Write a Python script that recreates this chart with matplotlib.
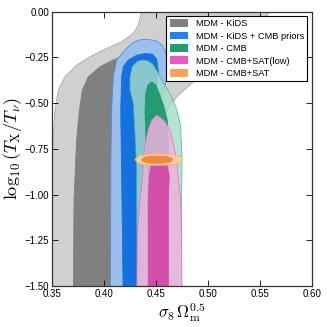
import numpy as np
import matplotlib
matplotlib.use("Agg")
import matplotlib.pyplot as plt
from matplotlib.patches import Patch

plt.rcParams['mathtext.fontset'] = 'cm'
plt.rcParams['font.family'] = ['Liberation Sans', 'DejaVu Sans']

# contour outlines (x = sigma8*Om^0.5, y = log10(Tx/Tnu))
kids_95_x = [0.3495, 0.3500, 0.3510, 0.3532, 0.3564, 0.3628, 0.3740, 0.3869, 0.4029, 0.4173, 0.4285, 0.4333, 0.4365, 0.4380,
             0.5650, 0.5599, 0.5503, 0.5311, 0.5054, 0.4846, 0.4702, 0.4590, 0.4526, 0.4503, 0.4494]
kids_95_y = [-1.60, -1.00, -0.75, -0.538, -0.428, -0.355, -0.292, -0.246, -0.200, -0.164, -0.118, -0.073, 0.0, 0.05,
             0.05, 0.0, -0.064, -0.173, -0.292, -0.392, -0.465, -0.556, -0.700, -0.940, -1.60]

kids_68_x = [0.3708, 0.3715, 0.3740, 0.3766, 0.3795, 0.3853, 0.3965, 0.4090, 0.4173, 0.4250,
             0.4350, 0.4400, 0.4380, 0.4320, 0.4300]
kids_68_y = [-1.60, -1.03, -0.70, -0.538, -0.428, -0.355, -0.300, -0.264, -0.246, -0.238,
             -0.245, -0.280, -0.400, -0.700, -1.60]

kcmb_95_x = [0.4065, 0.4070, 0.4077, 0.4093, 0.4125, 0.4205, 0.4269, 0.4300, 0.4360,
             0.4420, 0.4494, 0.4558, 0.4590, 0.4615, 0.4622, 0.4575, 0.4510, 0.4446, 0.4433, 0.4429, 0.4423]
kcmb_95_y = [-1.60, -0.80, -0.538, -0.355, -0.264, -0.210, -0.173, -0.164, -0.152,
             -0.151, -0.157, -0.180, -0.210, -0.280, -0.337, -0.430, -0.519, -0.629, -0.800, -0.975, -1.60]

kcmb_68_x = [0.4189, 0.4175, 0.4164, 0.4173, 0.4190, 0.4237, 0.4320, 0.4400,
             0.4470, 0.4510, 0.4526, 0.4500, 0.4450, 0.4400, 0.4370]
kcmb_68_y = [-1.60, -1.00, -0.538, -0.355, -0.300, -0.264, -0.237, -0.228,
             -0.232, -0.260, -0.330, -0.450, -0.600, -0.900, -1.60]

cmb_95_x = [0.4324, 0.4317, 0.4317, 0.4301, 0.4285, 0.4253, 0.4253, 0.4275, 0.4320, 0.4370,
            0.4420, 0.4470, 0.4520, 0.4570, 0.4640, 0.4695, 0.4740, 0.4750, 0.4753, 0.4750, 0.4750]
cmb_95_y = [-1.60, -1.03, -0.848, -0.665, -0.500, -0.428, -0.355, -0.300, -0.272, -0.264,
            -0.266, -0.285, -0.330, -0.385, -0.450, -0.520, -0.620, -0.750, -0.848, -1.03, -1.60]

cmb_68_x = [0.4429, 0.4420, 0.4405, 0.4397, 0.4405, 0.4425, 0.4462,
            0.4503, 0.4535, 0.4580, 0.4612, 0.4622, 0.4622, 0.4622]
cmb_68_y = [-1.60, -0.848, -0.665, -0.538, -0.447, -0.401, -0.383,
            -0.401, -0.447, -0.519, -0.592, -0.702, -0.848, -1.60]

satlow_95_x = [0.4317, 0.4324, 0.4349, 0.4375, 0.4381, 0.4401, 0.4426, 0.4462, 0.4510,
               0.4558, 0.4590, 0.4638, 0.4670, 0.4702, 0.4718, 0.4740, 0.4750, 0.4753]
satlow_95_y = [-1.60, -1.212, -1.030, -0.902, -0.811, -0.720, -0.647, -0.592, -0.565,
               -0.583, -0.600, -0.647, -0.720, -0.811, -0.902, -1.030, -1.212, -1.60]

satlow_68_x = [0.4429, 0.4429, 0.4439, 0.4462, 0.4526, 0.4606, 0.4631, 0.4622, 0.4622]
satlow_68_y = [-1.60, -1.030, -0.900, -0.826, -0.804, -0.826, -0.900, -1.030, -1.60]

sat_95_x = [0.4301, 0.4333, 0.4413, 0.4526, 0.4654, 0.4734, 0.4760, 0.4734, 0.4654, 0.4526, 0.4397, 0.4324]
sat_95_y = [-0.807, -0.789, -0.780, -0.776, -0.780, -0.789, -0.807, -0.826, -0.837, -0.840, -0.837, -0.826]

sat_68_x = [0.4365, 0.4397, 0.4462, 0.4542, 0.4622, 0.4663, 0.4654, 0.4590, 0.4510, 0.4429, 0.4381]
sat_68_y = [-0.807, -0.795, -0.789, -0.789, -0.793, -0.804, -0.818, -0.827, -0.829, -0.827, -0.820]

labels = ["MDM - KiDS", "MDM - KiDS + CMB priors", "MDM - CMB", "MDM - CMB+SAT(low)", "MDM - CMB+SAT"]
legend_colors = ["#808080", "#2a7ff0", "#1f9e71", "#f055c4", "#f9a25e"]

fig = plt.figure(figsize=(3.27, 3.27), dpi=100)
ax = fig.add_axes([0.158, 0.125, 0.795, 0.839])

#(x, y, face, alpha, edge)
layers = [
    (kids_95_x, kids_95_y, "#d0d0d0", 1.0, "#a8a8a8"),
    (kids_68_x, kids_68_y, "#808080", 1.0, "#808080"),
    (kcmb_95_x, kcmb_95_y, "#9cc0ee", 1.0, "#4a8ee8"),
    (kcmb_68_x, kcmb_68_y, "#1570e0", 1.0, "#1570e0"),
    (cmb_95_x, cmb_95_y, "#a4dec9", 0.8, "#48b08a"),
    (cmb_68_x, cmb_68_y, "#1f9a6c", 0.95, "#1f9a6c"),
    (satlow_95_x, satlow_95_y, "#eeb2dc", 0.85, "#e070c0"),
    (satlow_68_x, satlow_68_y, "#d44aa8", 0.95, "#d44aa8"),
    (sat_95_x, sat_95_y, "#fbcfa4", 0.95, "#f8b070"),
    (sat_68_x, sat_68_y, "#f08a40", 1.0, "#f08a40"),
]
for xs, ys, face, a, edge in layers:
    ax.fill(xs, ys, facecolor=face, alpha=a, edgecolor=edge, linewidth=0.6)

ax.set_xlim(0.35, 0.60)
ax.set_ylim(-1.5, 0.0)
ax.set_xticks([0.35, 0.40, 0.45, 0.50, 0.55, 0.60])
ax.set_yticks([0.0, -0.25, -0.5, -0.75, -1.0, -1.25, -1.5])
ax.set_xticklabels(["0.35", "0.40", "0.45", "0.50", "0.55", "0.60"])
ax.set_yticklabels(["0.00", "\u22120.25", "\u22120.50", "\u22120.75", "\u22121.00", "\u22121.25", "\u22121.50"])
ax.tick_params(direction="in", top=True, right=True, length=4, width=0.6, labelsize=7, pad=2)
for s in ax.spines.values():
    s.set_linewidth(0.9)
    s.set_color("#333333")

ax.set_xlabel(r"$\sigma_8\,\Omega_{\rm m}^{0.5}$", fontsize=12, labelpad=1)
ax.set_ylabel(r"$\log_{10}(T_{\rm X}/T_\nu)$", fontsize=13, labelpad=0)

handles = [Patch(facecolor=c, edgecolor="none") for c in legend_colors]
leg = ax.legend(handles, labels, loc="upper right", fontsize=6.7, frameon=True, fancybox=False,
                framealpha=1, edgecolor="black", handlelength=2.0, handleheight=0.9,
                labelspacing=0.36, borderpad=0.35, handletextpad=0.8, borderaxespad=0.45)
leg.get_frame().set_linewidth(0.8)

fig.savefig("out.png", dpi=100)
